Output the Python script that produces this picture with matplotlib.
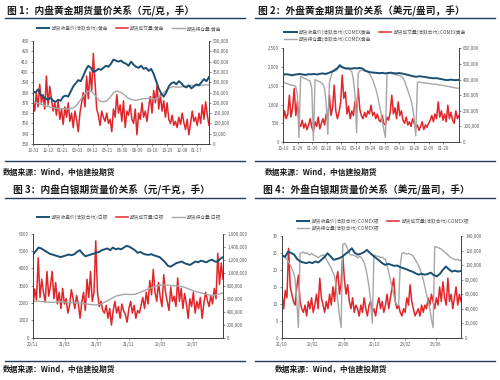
import numpy as np
import matplotlib
matplotlib.use("Agg")
from matplotlib import pyplot as plt
from matplotlib.lines import Line2D
from matplotlib.ticker import FuncFormatter

plt.rcParams['font.family'] = ['Noto Sans CJK SC', 'DejaVu Sans']
plt.rcParams['axes.unicode_minus'] = False

## DATA
# fig 1: SHFE gold (price yuan/g, volume & OI in thousand lots)
au_close = [381, 380, 383, 378, 376, 374, 373, 375, 372, 371, 373, 372, 376, 377, 376, 381, 386, 389,
            392, 391, 396, 402, 406, 404, 400, 401, 403, 402, 404, 406, 405, 408, 412, 411, 410, 411,
            409, 408, 406, 410, 407, 405, 404, 406, 403, 404, 401, 403, 398, 391, 384, 379, 376, 380,
            386, 389, 390, 388, 391, 389, 386, 385, 387, 384, 386, 388, 387, 390, 393, 391, 395]
au_oi = [205, 200, 195, 188, 182, 178, 175, 172, 172, 170, 172, 175, 190, 215, 240, 258, 255, 235,
         212, 205, 208, 225, 250, 258, 250, 238, 222, 215, 212, 216, 220, 221, 222, 218, 222, 238,
         255, 270, 278, 277, 276, 280, 282, 284, 285, 283, 285, 287, 286]
au_vol = [210, 160, 250, 180, 290, 200, 240, 170, 330, 190, 280, 220, 160, 200,
          140, 210, 120, 170, 95, 180, 130, 200, 110, 150, 80, 160, 120, 60, 150,
          200, 250, 180, 330, 220, 350, 260, 440, 300,
          170, 140, 90, 160, 130, 110, 150, 100, 120, 60, 170, 130, 240, 150, 190, 110, 210, 80,
          160, 140, 190, 120, 100, 170, 45, 150, 120, 200, 130, 160, 110,
          180, 230, 150, 260, 200, 285, 170, 240, 160, 210, 130, 200,
          120, 100, 140, 90, 110, 80, 130, 95, 150, 105, 70, 120, 45, 100, 160, 110, 130, 90, 150,
          100, 190, 120, 205, 140, 90]
au_ticks = ['10-31', '12-12', '01-21', '03-03', '04-12', '05-21', '06-30', '08-09', '09-18',
            '10-29', '12-08', '01-17']

# fig 2: COMEX gold (USD/oz, thousand lots)
gc_close = [1790, 1810, 1800, 1780, 1795, 1805, 1815, 1800, 1790, 1810, 1805, 1815, 1800, 1820,
            1830, 1815, 1840, 1870, 1900, 1950, 2050, 1990, 1960, 1965, 1955, 1970, 1965, 1975,
            1960, 1900, 1875, 1860, 1850, 1845, 1835, 1845, 1830, 1840, 1850, 1835, 1830, 1840,
            1825, 1810, 1790, 1770, 1750, 1740, 1755, 1745, 1735, 1720, 1710, 1700, 1705, 1690,
            1675, 1660, 1650, 1665, 1655, 1650, 1660]
gc_oi = [385, 380, 375, 372, 368, 365, 364, 360, 355, 300, 30,
         420, 415, 410, 405, 400, 395, 390, 340, 10,
         400, 395, 390, 385, 380, 370, 340, 250, 50,
         380, 420, 450, 465, 470, 475, 478, 480, 482, 478, 475, 470, 468, 460, 450, 400, 300, 60,
         440, 455, 460, 458, 455, 458, 450, 440, 420, 400, 370, 340, 300, 250, 200, 140, 80, 30,
         440, 445, 440, 438, 435, 432, 430, 428, 425, 420, 410, 390, 360, 330, 300, 270, 220, 150, 40,
         380, 385, 383, 380, 378, 380, 376, 375, 374, 372, 370, 372, 368, 366, 365, 364, 362, 360,
         358, 356, 355, 352, 350, 348, 346, 345, 344]
gc_vol = [130, 200, 150, 180, 300, 160, 220, 343, 170, 260, 120,
          100, 140, 90, 120, 80, 110, 150, 95, 70, 130, 100, 160, 85, 120, 150, 110, 180,
          140, 300, 170, 220, 364, 200, 150, 190, 250, 428, 280, 320, 180, 230, 150, 200, 170, 260,
          200, 343, 210, 170, 150, 190, 160, 200, 180, 236, 170, 190, 150, 180, 140,
          130, 170, 120, 110, 160, 140, 190, 300, 180, 220, 150, 257, 170, 200, 140, 120, 160, 110,
          130, 100, 150, 120,
          90, 110, 75, 100, 130, 80, 110, 95, 120, 140, 170, 130, 180, 150, 257, 160, 200, 140, 180,
          130, 236, 150, 190, 140, 120, 200, 150, 170]
gc_ticks = ['10-19', '11-29', '01-09', '02-20', '04-02', '05-14', '06-24', '08-05', '09-16',
            '10-28', '12-09', '01-20']

# fig 3: SHFE silver (yuan/kg, thousand lots)
ag_close = [4800, 5000, 5200, 5150, 5050, 4950, 4850, 4800, 4750, 4700, 4650, 4700, 4750, 4800,
            4760, 4820, 4950, 5050, 4850, 4700, 4750, 4800, 4850, 4900, 4950, 5050, 5100, 5150,
            5050, 5200, 5100, 5150, 5100, 5200, 5300, 5250, 5150, 5050, 4900, 4950, 4850, 4800,
            4780, 4820, 4750, 4700, 4650, 4500, 4350, 4150, 4100, 4200, 4300, 4350, 4400, 4300,
            4250, 4200, 4300, 4400, 4350, 4450, 4400, 4350, 4450, 4500, 4400, 4380, 4550, 4650]
ag_oi = [560, 565, 555, 550, 545, 550, 555, 545, 540, 535, 530, 520, 510, 505, 520, 560, 600, 640,
         660, 670, 665, 670, 700, 730, 760, 790, 810, 815, 805, 800, 795, 780, 750, 720, 700, 680,
         660, 650, 670, 690]
ag_vol = [500, 750, 580, 1230, 620, 900, 700, 550, 1020, 640, 800,
          1020, 600, 850, 520, 700, 450, 760, 520, 600, 380, 500,
          740, 600, 450, 650, 520, 300, 550, 700, 420, 900, 620, 1020,
          560, 700, 1490, 700, 480, 560, 420,
          380, 500, 300, 450, 196, 420, 560, 380, 480, 300, 520, 410, 360, 240, 450, 560, 380, 500,
          300, 420,
          380, 500, 620, 450, 700, 520, 880, 660, 1050, 700, 560, 850, 620, 480, 970, 700, 560, 420,
          780, 560,
          640, 480, 920, 560, 760, 450, 680, 520, 300, 600, 480, 700, 380, 560, 450, 620, 300, 520,
          700, 580,
          480, 650, 520, 760, 600, 1300, 820, 1150, 900]
ag_ticks = ['20/11', '21/03', '21/07', '21/11', '22/03', '22/07']

# fig 4: COMEX silver (USD/oz, thousand lots)
si_close = [24.4, 23.8, 25.4, 25.0, 24.5, 23.2, 22.5, 22.2, 22.0, 22.3, 22.0, 22.5, 22.2, 23.0,
            23.8, 24.9, 24.0, 23.0, 23.2, 23.5, 24.0, 24.8, 25.4, 26.4, 25.0, 24.5, 24.8, 25.2,
            25.9, 25.0, 24.2, 23.5, 22.8, 22.0, 21.5, 21.8, 21.5, 21.2, 21.3, 20.8, 20.5, 20.2,
            19.8, 19.5, 19.0, 18.6, 18.9, 18.6, 18.8, 19.2, 18.5, 18.1, 18.8, 20.0, 21.0, 20.2,
            19.5, 19.8, 19.5, 19.7]
si_oi = [114, 112, 110, 108, 104, 100, 95, 90, 80, 50, 14,
         116, 117, 118, 116, 117, 115, 114, 116, 114, 113, 112, 110, 112, 113, 114, 112, 108, 104,
         100, 96, 90, 85, 70, 50, 30, 14,
         128, 130, 127, 122, 116, 114, 114, 113, 112, 110, 112, 111, 108, 104, 96, 84, 70, 50, 20,
         114, 113, 112, 112, 110, 111, 109, 108, 100, 90, 80, 70, 60, 50, 45, 45,
         100, 116, 117, 116, 115, 116, 115, 114, 112, 108, 104, 100, 95, 88, 80, 70, 60, 50, 40, 25,
         14,
         125, 125, 124, 123, 122, 120, 118, 116, 114, 112, 110, 109, 108, 107, 108, 106, 107]
si_vol = [60, 40, 65, 55, 123, 70, 60, 50, 45, 70, 86, 50, 40,
          35, 45, 30, 50, 40, 55, 35, 45, 60, 40, 82, 55, 45, 35, 50, 40, 60, 45,
          70, 50, 80, 91, 60, 75, 114, 80, 60, 73, 50, 40, 55, 35, 45,
          40, 30, 45, 35, 55, 40, 30, 45, 50, 35, 40, 30, 45, 55, 40, 50, 35, 45, 60, 40, 55,
          68, 82, 50, 40, 45, 35, 30, 40, 35, 55, 45, 73, 50, 40, 30, 35, 40, 30, 45,
          35, 45, 40, 55, 45, 60, 50, 40, 55, 45, 70, 50, 77, 55, 45, 82, 50, 60, 40, 55, 70, 45,
          60, 50]
si_ticks = ['21/10', '22/02', '22/06', '22/10', '23/02', '23/06']

titles = ['图 1：内盘黄金期货量价关系（元/克，手）', '图 2：外盘黄金期货量价关系（美元/盎司，手）',
          '图 3：内盘白银期货量价关系（元/千克，手）', '图 4：外盘白银期货量价关系（美元/盎司，手）']
source = '数据来源：Wind，中信建投期货'

n1 = ['期货收盘价(活跃合约):黄金', '期货成交量:黄金', '期货持仓量:黄金']
n2 = ['期货收盘价(活跃合约):COMEX黄金', '期货成交量(活跃合约):COMEX黄金', '期货持仓量(活跃合约):COMEX黄金']
n3 = ['期货收盘价(活跃合约):白银', '期货成交量:白银', '期货持仓量:白银']
n4 = ['期货收盘价(活跃合约):COMEX银', '期货成交量(活跃合约):COMEX银', '期货持仓量(活跃合约):COMEX银']

BLUE = '#1b4f72'
RED = '#e0262b'
GRAY = '#a6a6a6'
NAVY = '#1f3b5c'
TXT = '#595959'

comma = FuncFormatter(lambda v, p: f'{v:,.0f}')

fig = plt.figure(figsize=(5, 3.8), dpi=100)

## TITLES, RULES, SOURCES
for i, (tx, ty) in enumerate([(0.014, 1 - 11 / 380), (0.516, 1 - 11 / 380),
                              (0.026, 1 - 190 / 380), (0.526, 1 - 190 / 380)]):
    fig.text(tx, ty, titles[i], fontsize=7.0, fontweight='bold', color='#1a1a1a', va='center')
for y in (1 - 18 / 380, 1 - 198 / 380, 1 - 161 / 380, 1 - 361 / 380):
    fig.add_artist(Line2D([0.01, 0.49], [y, y], color=NAVY, lw=1.0))
    fig.add_artist(Line2D([0.51, 0.99], [y, y], color=NAVY, lw=1.0))
for tx, ty in [(0.006, 1 - 172 / 380), (0.53, 1 - 172 / 380),
               (0.006, 1 - 369 / 380), (0.55, 1 - 369 / 380)]:
    fig.text(tx, ty, source, fontsize=5.6, fontweight='bold', fontstyle='italic',
             color='#1a1a1a', va='center')

## PANELS
specs = [
    ([0.066, 0.621, 0.352, 0.271], au_close, au_vol, au_oi, n1, (330, 430), 10, (0, 500000), 50000,
     au_ticks, 0.93, (0.07, 1 - 33 / 380), 3, False),
    ([0.566, 0.626, 0.352, 0.247], gc_close, gc_vol, gc_oi, n2, (0, 2500), 500, (0, 600000), 100000,
     gc_ticks, 0.91, (0.565, 1 - 44 / 380), 2, True),
    ([0.066, 0.111, 0.38, 0.274], ag_close, ag_vol, ag_oi, n3, (0, 6000), 1000, (0, 1600000), 200000,
     ag_ticks, 0.84, (0.07, 1 - 222 / 380), 3, False),
    ([0.564, 0.111, 0.358, 0.268], si_close, si_vol, si_oi, n4, (0, 30), 5, (0, 140000), 20000,
     si_ticks, 0.86, (0.59, 1 - 233 / 380), 2, False),
]

for spec in specs:
    rect, close, vol, oi, names = spec[:5]
    ylim, ystep, y2lim, y2step, ticks, span, lpos, ncol, lcomma = spec[5:]
    ax = fig.add_axes(rect)
    ax2 = ax.twinx()
    l2, = ax2.plot(np.linspace(0, 1, len(vol)), np.array(vol) * 1000, color=RED, lw=1.1, label=names[1])
    l3, = ax2.plot(np.linspace(0, 1, len(oi)), np.array(oi) * 1000, color=GRAY, lw=1.0, label=names[2])
    l1, = ax.plot(np.linspace(0, 1, len(close)), close, color=BLUE, lw=1.4, label=names[0])
    ax.set_zorder(ax2.get_zorder() + 1)
    ax.patch.set_visible(False)
    ax.set_xlim(0, 1)
    ax.set_ylim(*ylim)
    ax.set_yticks(np.arange(ylim[0], ylim[1] + ystep / 2, ystep))
    ax2.set_ylim(*y2lim)
    ax2.set_yticks(np.arange(y2lim[0], y2lim[1] + y2step / 2, y2step))
    ax2.yaxis.set_major_formatter(comma)
    if lcomma:
        ax.yaxis.set_major_formatter(comma)
    ax.set_xticks(np.linspace(0, span, len(ticks)))
    ax.set_xticklabels(ticks)
    for a in (ax, ax2):
        a.tick_params(labelsize=3.2, colors=TXT, length=1.5, width=0.5, pad=1.5)
        a.spines['top'].set_visible(False)
        for s in ('left', 'right', 'bottom'):
            a.spines[s].set_color('#404040')
            a.spines[s].set_linewidth(0.6)
    # ncol=2 fills column-wise, so reorder to get close + volume on the first row
    handles = [l1, l2, l3] if ncol == 3 else [l1, l3, l2]
    ax.legend(handles=handles, loc='lower left', bbox_to_anchor=lpos, bbox_transform=fig.transFigure,
              ncol=ncol, frameon=False, fontsize=3.4, handlelength=2.6, columnspacing=1.6,
              handletextpad=0.5, borderaxespad=0, labelspacing=0.4, labelcolor=TXT)

fig.savefig('out.png', dpi=100)
